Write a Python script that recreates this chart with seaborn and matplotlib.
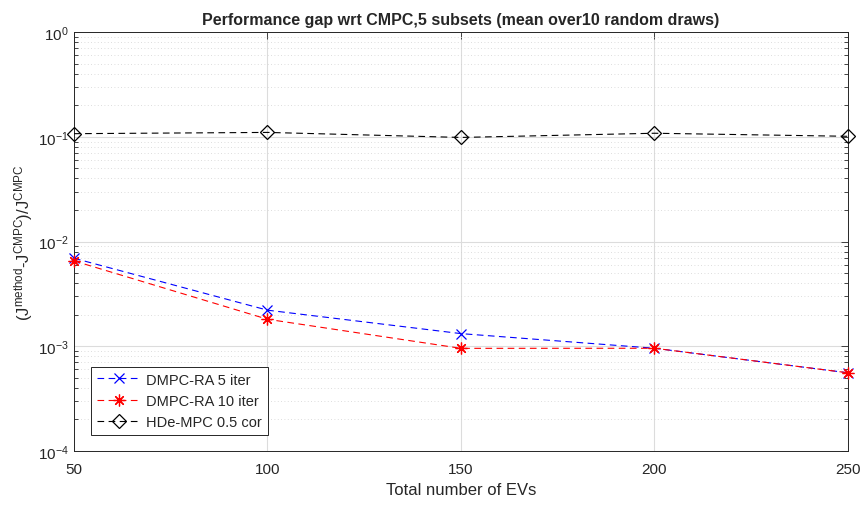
import matplotlib
matplotlib.use("Agg")
import matplotlib.pyplot as plt
import matplotlib.ticker as mticker
import seaborn as sns
import pandas as pd
import numpy as np

ev_counts = [50, 100, 150, 200, 250]
dmpc_5iter = [0.00692, 0.00221, 0.00132, 0.000957, 0.000558]
dmpc_10iter = [0.00653, 0.00181, 0.000955, 0.000957, 0.000558]
hde_mpc = [0.107, 0.110, 0.0985, 0.108, 0.101]

labels = ["DMPC-RA 5 iter", "DMPC-RA 10 iter", "HDe-MPC 0.5 cor"]
xticks = [50, 100, 150, 200, 250]

sns.set_theme(style="white")
plt.rcParams['font.family'] = ['Liberation Sans', 'DejaVu Sans']
plt.rcParams['mathtext.default'] = 'regular'

fig = plt.figure(figsize=(8.62, 5.06), dpi=100)
ax = fig.add_axes([74/862, 1-452/506, (848-74)/862, (452-33)/506])

series = [
    (dmpc_5iter, labels[0], dict(color='#0000ff', marker='x', markersize=7.5, markeredgewidth=0.9,
                                 markeredgecolor='#0000ff')),
    (dmpc_10iter, labels[1], dict(color='#ff0000', marker=(8, 2, 0), markersize=8.5, markeredgewidth=0.9,
                                  markeredgecolor='#ff0000')),
    (hde_mpc, labels[2], dict(color='black', marker='D', markersize=7, markerfacecolor='none',
                               markeredgecolor='black', markeredgewidth=0.9)),
]
for vals, lab, kw in series:
    df = pd.DataFrame({"EVs": ev_counts, "gap": vals})
    sns.lineplot(data=df, x="EVs", y="gap", ax=ax, label=lab, linestyle=(0, (6, 4)),
                 linewidth=0.8, clip_on=False, zorder=3, **kw)

ax.set_yscale('log')
ax.set_ylim(1e-4, 1)
ax.set_xlim(50, 250)
ax.set_xticks(xticks)
ax.set_xticklabels([str(t) for t in xticks], fontsize=11, color='#262626')
ax.yaxis.set_major_locator(mticker.LogLocator(base=10, numticks=10))
ax.yaxis.set_minor_locator(mticker.LogLocator(base=10, subs=np.arange(2, 10), numticks=50))
ax.yaxis.set_minor_formatter(mticker.NullFormatter())
for lab in ax.get_yticklabels():
    lab.set_fontsize(11)
    lab.set_color('#262626')

ax.tick_params(axis='both', which='both', direction='in', top=True, right=True,
               color='#262626', width=0.6)
ax.tick_params(axis='both', which='major', length=5)
ax.tick_params(axis='y', which='minor', length=3, left=True, right=True)
ax.tick_params(axis='x', which='major', pad=8)
ax.tick_params(axis='y', which='major', pad=4)

ax.grid(True, which='major', axis='both', color='#dcdcdc', linewidth=0.8, linestyle='-')
ax.grid(True, which='minor', axis='y', color='#d2d2d2', linewidth=0.6, linestyle=(0, (1, 3)))
ax.set_axisbelow(True)
for s in ax.spines.values():
    s.set_color('#262626')
    s.set_linewidth(0.7)
    s.set_visible(True)

ax.set_title("Performance gap wrt CMPC,5 subsets (mean over10 random draws)",
             fontsize=11.5, fontweight='bold', pad=6)
ax.set_xlabel("Total number of EVs", fontsize=12, color='#262626', labelpad=4)
ax.set_ylabel(r"$(J^{method}$-$J^{CMPC})/J^{CMPC}$", fontsize=12, color='#262626', labelpad=2)

leg = ax.legend(loc='lower left', bbox_to_anchor=(17/774, 16/419), fontsize=10.5,
                frameon=True, fancybox=False, borderpad=0.4, handlelength=3.0,
                labelspacing=0.5, handletextpad=0.4, borderaxespad=0)
leg.get_frame().set_edgecolor('#262626')
leg.get_frame().set_linewidth(0.7)
leg.get_frame().set_alpha(1)

fig.savefig("out.png", dpi=100)
